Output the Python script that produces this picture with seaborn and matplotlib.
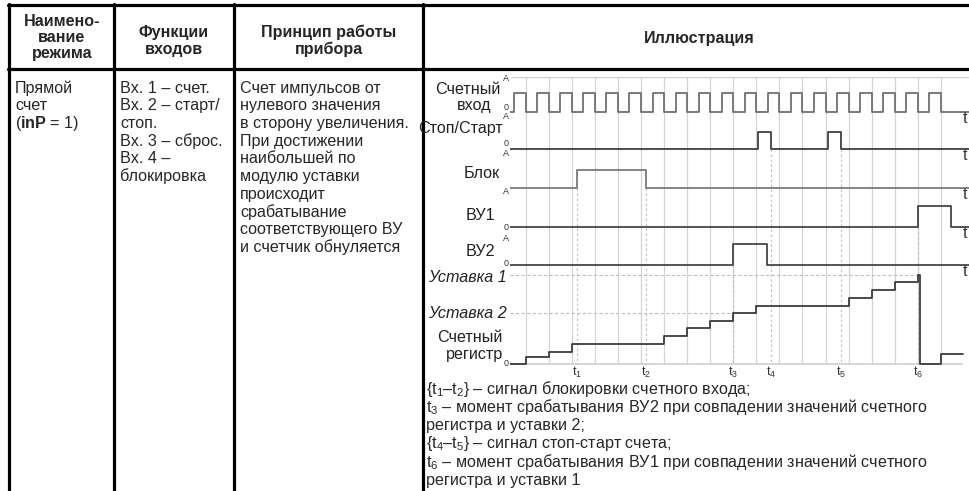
"""
Таблица режима "Прямой счет" с временной диаграммой работы счетчика.
"""

import matplotlib
matplotlib.use('Agg')
import matplotlib.pyplot as plt
import seaborn as sns

# ---------------- Данные диаграммы (время в периодах счетных импульсов) ----------------
count_pulse_off = list(range(1, 20))          # спад каждого счетного импульса
count_pulse_on = [t - 0.5 for t in count_pulse_off]
stop_start_on = [11.07, 14.10]
stop_start_off = [11.64, 14.67]
block_on = [3.23]
block_off = [6.22]
vu1_on = [18.0]
vu1_off = [19.46]
vu2_on = [10.0]
vu2_off = [11.47]
register_times = [1, 2, 3, 7, 8, 9, 10, 11, 15, 16, 17, 18, 18.08, 19]
register_values = [7, 12, 20, 28, 36, 43, 51, 58, 66, 74, 82, 89, 0, 10]
setpoint_1 = 89
setpoint_2 = 51
event_times = [3.23, 6.22, 10.0, 11.64, 14.67, 18.0]
event_labels = ['t$_1$', 't$_2$', 't$_3$', 't$_4$', 't$_5$', 't$_6$']
grid_times = list(range(1, 20))

# ---------------- Тексты таблицы ----------------
header_col1 = ['Наимено-', 'вание', 'режима']
header_col2 = ['Функции', 'входов']
header_col3 = ['Принцип работы', 'прибора']
header_col4 = 'Иллюстрация'
body_col1 = ['Прямой', 'счет', r'($\mathbf{inP}$ = 1)']
body_col2 = ['Вх. 1 – счет.', 'Вх. 2 – старт/', 'стоп.', 'Вх. 3 – сброс.',
             'Вх. 4 –', 'блокировка']
body_col3 = ['Счет импульсов от', 'нулевого значения', 'в сторону увеличения.',
             'При достижении', 'наибольшей по', 'модулю уставки', 'происходит',
             'срабатывание', 'соответствующего ВУ', 'и счетчик обнуляется']
notes = ['{t$_1$–t$_2$} – сигнал блокировки счетного входа;',
         't$_3$ – момент срабатывания ВУ2 при совпадении значений счетного',
         'регистра и уставки 2;',
         '{t$_4$–t$_5$} – сигнал стоп-старт счета;',
         't$_6$ – момент срабатывания ВУ1 при совпадении значений счетного',
         'регистра и уставки 1']

# ---------------- Оформление ----------------
sns.set_theme(style='white')
plt.rcParams['font.family'] = ['Liberation Sans', 'DejaVu Sans']
plt.rcParams['mathtext.fontset'] = 'custom'
plt.rcParams['mathtext.rm'] = 'Liberation Sans'
plt.rcParams['mathtext.it'] = 'Liberation Sans:italic'
plt.rcParams['mathtext.bf'] = 'Liberation Sans:bold'
plt.rcParams['mathtext.default'] = 'regular'

W, H = 969, 491
T_LEFT, T_RIGHT = 0.32, 20.22     # границы оси времени
T_END = 19.96
FS = 11.6


def pulses(ons, offs):
    """Ступенчатый сигнал 0/1 по фронтам."""
    xs, ys = [T_LEFT], [0]
    for a, b in zip(ons, offs):
        xs += [a, b]
        ys += [1, 0]
    xs.append(T_RIGHT)
    ys.append(0)
    return xs, ys


fig = plt.figure(figsize=(W / 100, H / 100), dpi=100)
bg = fig.add_axes([0, 0, 1, 1])
bg.set_xlim(0, W)
bg.set_ylim(H, 0)
bg.axis('off')

# Линии таблицы
lw_tab = 2.3
bg.plot([8, W], [5, 5], color='black', lw=lw_tab)
bg.plot([8, W], [69, 69], color='black', lw=lw_tab)
for xc in [9, 114, 234, 423]:
    bg.plot([xc, xc], [4, H], color='black', lw=lw_tab)

# Заголовки
for i, s in enumerate(header_col1):
    bg.text(62, 21 + 16 * i, s, ha='center', va='center', fontsize=FS, fontweight='bold')
for i, s in enumerate(header_col2):
    bg.text(174, 32 + 17 * i, s, ha='center', va='center', fontsize=FS, fontweight='bold')
for i, s in enumerate(header_col3):
    bg.text(329, 32 + 17 * i, s, ha='center', va='center', fontsize=FS, fontweight='bold')
bg.text(699, 38, header_col4, ha='center', va='center', fontsize=FS, fontweight='bold')

# Текст ячеек
for i, s in enumerate(body_col1):
    bg.text(15, 88 + 17.6 * i, s, ha='left', va='center', fontsize=FS)
for i, s in enumerate(body_col2):
    bg.text(120, 88 + 17.6 * i, s, ha='left', va='center', fontsize=FS)
for i, s in enumerate(body_col3):
    bg.text(240, 88 + 17.7 * i, s, ha='left', va='center', fontsize=FS)
for i, s in enumerate(notes):
    bg.text(426, 389 + 18.2 * i, s, ha='left', va='center', fontsize=FS)

# Подписи строк диаграммы
row_labels = [('Счетный', 89, 501, 'normal'), ('вход', 105, 491, 'normal'),
              ('Стоп/Старт', 129, 503, 'normal'), ('Блок', 174, 500, 'normal'),
              ('ВУ1', 215, 495, 'normal'), ('ВУ2', 251, 495, 'normal'),
              ('Уставка 1', 277, 507, 'italic'), ('Уставка 2', 314, 507, 'italic'),
              ('Счетный', 337, 503, 'normal'), ('регистр', 354, 503, 'normal')]
for s, y, x, st in row_labels:
    bg.text(x, y, s, ha='right', va='center', fontsize=FS, style=st, color='#222222')
small = [('A', 78), ('0', 107), ('A', 116), ('0', 143), ('A', 154), ('A', 192),
         ('0', 227), ('A', 238), ('0', 263), ('0', 364)]
for s, y in small:
    bg.text(509, y, s, ha='right', va='center', fontsize=6.5, color='#333333')

# ---------------- Диаграмма ----------------
y_top, y_bot = 77, 372
ax = fig.add_axes([510 / W, 1 - y_bot / H, (W - 510) / W, (y_bot - y_top) / H])
ax.set_xlim(T_LEFT, T_RIGHT)
ax.set_ylim(y_bot, y_top)
ax.axis('off')

reg_zero = 364.3
ax.vlines(grid_times, y_top, reg_zero, color='#d4d4d4', lw=0.9, zorder=1)
ax.hlines(y_top, T_LEFT, T_RIGHT, color='#cfcfcf', lw=1.0, zorder=1)
ax.hlines(reg_zero, T_LEFT, T_END, color='#cfcfcf', lw=1.2, zorder=1)

# строки сигналов: (включения, выключения, нулевая линия, амплитуда, цвет)
rows = [
    (count_pulse_on, count_pulse_off, 112, 19, '#707070'),
    (stop_start_on, stop_start_off, 149, 17, '#404040'),
    (block_on, block_off, 188, 18, '#7a7a7a'),
    (vu1_on, vu1_off, 227, 21, '#454545'),
    (vu2_on, vu2_off, 265, 21, '#454545'),
]
for ons, offs, base, amp, col in rows:
    xs, ys = pulses(ons, offs)
    if ons is count_pulse_on:
        xs[-1] = T_END
    sns.lineplot(x=xs, y=[base - amp * v for v in ys], drawstyle='steps-post',
                 color=col, lw=1.3, estimator=None, ax=ax, zorder=3)
    if ons is count_pulse_on:
        ax.hlines(base, T_END, T_RIGHT, color=col, lw=1.3)

# пунктирные уровни уставок
ax.hlines(reg_zero - setpoint_1, T_LEFT, vu1_on[0], color='#bdbdbd', lw=0.8,
          linestyles=(0, (3, 2)), zorder=2)
ax.hlines(reg_zero - setpoint_2, T_LEFT, vu2_on[0], color='#bdbdbd', lw=0.8,
          linestyles=(0, (3, 2)), zorder=2)

# пунктирные отметки моментов времени
event_tops = [188, 188, 265, 149, 149, 227]
ax.vlines(event_times, event_tops, reg_zero, color='#c4c4c4', lw=0.9,
          linestyles=(0, (2, 2)), zorder=2)

# счетный регистр
reg_x = [T_LEFT] + register_times + [T_END]
reg_y = [0] + register_values + [register_values[-1]]
sns.lineplot(x=reg_x, y=[reg_zero - v for v in reg_y], drawstyle='steps-post',
             color='#3c3c3c', lw=1.3, estimator=None, ax=ax, zorder=4)

# подписи "t" у осей и моментов времени
for base in [112, 149, 188, 227, 265]:
    ax.text(T_RIGHT - 0.08, base + 6, 't', ha='right', va='center', fontsize=FS,
            color='#333333')
for t, lab in zip(event_times, event_labels):
    ax.text(t, 372, lab, ha='center', va='center', fontsize=9, color='#333333',
            clip_on=False)

fig.savefig('out.png', dpi=100)
